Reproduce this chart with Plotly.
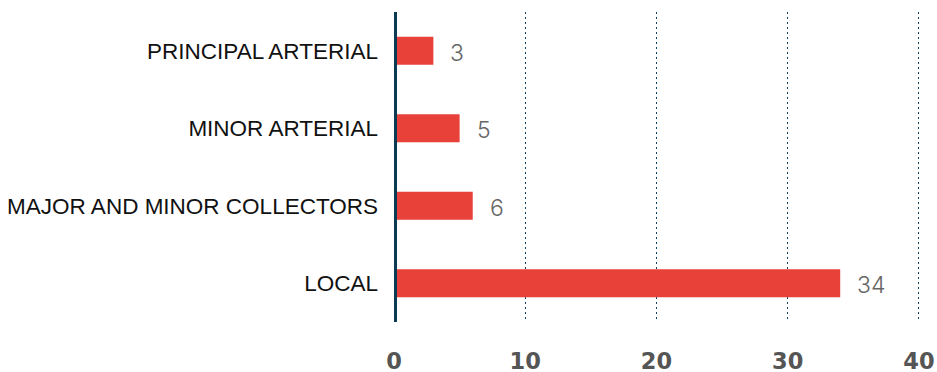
import plotly.graph_objects as go

categories = ["PRINCIPAL ARTERIAL", "MINOR ARTERIAL", "MAJOR AND MINOR COLLECTORS", "LOCAL"]
values = [3, 5, 6, 34]
x_ticks = [0, 10, 20, 30, 40]

fig = go.Figure()
fig.add_trace(go.Bar(
    y=categories, x=values, orientation="h",
    marker=dict(color="#e8413a", line=dict(width=0)),
    hoverinfo="skip",
))

for c, v in zip(categories, values):
    fig.add_annotation(x=v, y=c, text=str(v), showarrow=False,
                       xanchor="left", xshift=15, yshift=-2,
                       font=dict(family="Inter", size=23, color="#666666", weight=300))

# baseline axis line at x = 0
fig.add_shape(type="line", xref="x", yref="paper", x0=0, x1=0, y0=0, y1=1,
              line=dict(color="#0b3a52", width=6), layer="above")

fig.update_layout(
    width=937, height=372,
    margin=dict(l=394, r=17, t=12, b=50, autoexpand=False),
    paper_bgcolor="white", plot_bgcolor="white",
    bargap=0.64, showlegend=False,
    xaxis=dict(range=[0, 40.08], tickvals=x_ticks, showgrid=True,
               gridcolor="#0f4260", griddash="2px,3px", gridwidth=1,
               zeroline=False, showline=False, ticks="",
               ticklabelstandoff=23,
               tickfont=dict(family="DejaVu Sans", size=22.5, color="#555555", weight="bold")),
    yaxis=dict(categoryorder="array", categoryarray=categories[::-1],
               showline=False, showgrid=False, zeroline=False, ticks="",
               ticklabelstandoff=15,
               tickfont=dict(family="Liberation Sans", size=22.5, color="#111111")),
)

fig.write_html("out.html", config={"displayModeBar": False},
               post_script="document.body.style.margin='0';document.body.style.overflow='hidden';")
